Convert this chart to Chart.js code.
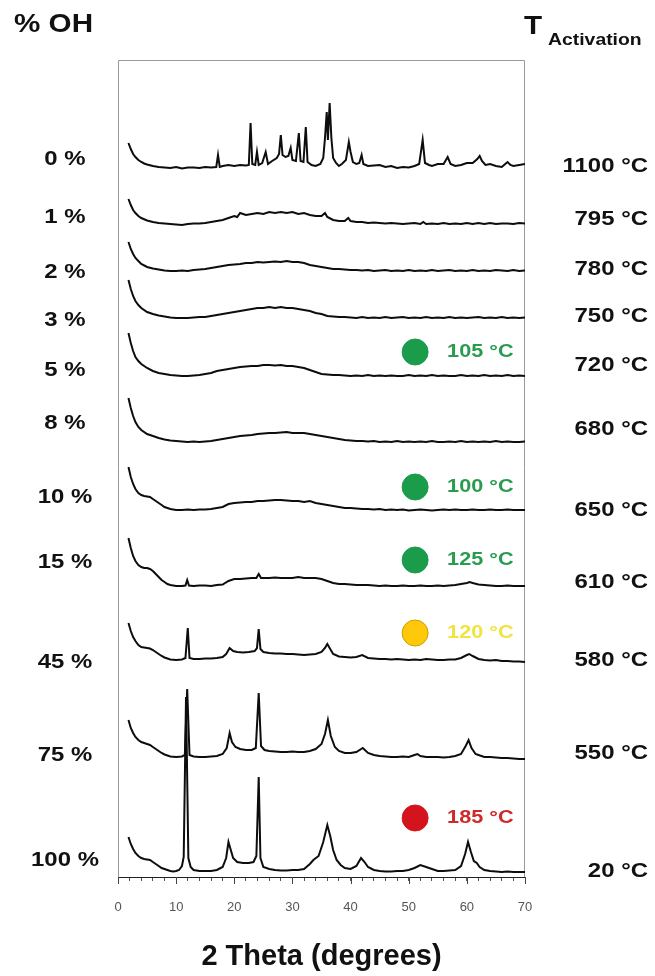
<!DOCTYPE html>
<html>
<head>
<meta charset="utf-8">
<script src="https://cdn.jsdelivr.net/npm/chart.js@4.4.0/dist/chart.umd.min.js"></script>
<style>
	html, body { margin: 0; padding: 0; background: #fff; }
	#wrap { position: relative; width: 655px; height: 976px; }
</style>
</head>
<body>
<div id="wrap"><canvas id="xrd"></canvas></div>
<script>
// sample labels (left) and activation temperatures (right)
const ohLabels = ["0 %", "1 %", "2 %", "3 %", "5 %", "8 %", "10 %", "15 %", "45 %", "75 %", "100 %"];
const activationLabels = ["1100 °C", "795 °C", "780 °C", "750 °C", "720 °C", "680 °C", "650 °C", "610 °C", "580 °C", "550 °C", "20 °C"];

// vertical stacking of the patterns (a.u.)
const stackOffset = [709, 653, 606, 559, 501, 435, 367, 291, 217, 119, 5];
// where the side labels sit (a.u.)
const ohLabelLevel = [718, 660, 605, 557, 507, 454, 380, 315, 215, 122, 17];
const activationLevel = [711, 658, 608, 561, 512, 448, 367, 295, 217, 124, 6];

// x axis
const xMin = 0;
const xMax = 70;
const yMax = 817;

// XRD patterns, [2theta, intensity above baseline]
const oh0 = [[1.8,25],[2.2,19],[2.6,14],[3,11],[3.5,8],[4,6],[4.5,4.5],[5,3.5],[6,2],[7,1],[8,0.5],[9,0],[10,1],[11,-0.5],[12,0.5],[13,0.5],[14,0],[15,1],[16,0.5],[16.9,1],[17.2,13],[17.5,1],[18,2],[19,3],[20,2],[21,3],[22,2.5],[22.5,3],[22.8,45],[23.1,4],[23.6,3],[23.9,16],[24.2,3],[24.8,5],[25.4,16],[25.8,4],[26.5,7],[27.3,10],[27.7,14],[28,33],[28.3,13],[28.8,11],[29.3,12],[29.7,20],[30,8],[30.6,7],[31.1,35],[31.4,7],[31.9,6],[32.3,41],[32.6,6],[33.3,3],[34,2],[34.8,4],[35.3,10],[35.6,30],[35.9,56],[36.1,28],[36.4,65],[36.7,30],[37,10],[37.5,5],[38,2],[38.5,4],[39.2,8],[39.7,26],[40,16],[40.4,6],[41,4],[41.5,5],[41.9,13],[42.2,4],[43,2],[44,2.5],[45,3],[46,1],[47,2],[48,0],[49,1],[50,0.5],[51,2],[51.8,4],[52.4,28],[52.8,5],[53.5,3],[54,2],[55,4],[56,4],[56.7,11],[57.2,4],[58,2],[59,3],[60,5],[61,5],[61.8,9],[62.2,12],[62.6,7],[63.2,3],[64,4],[65,2],[66,1],[66.6,4],[67,6],[67.5,3],[68,2],[69,3],[70,4]];
const oh1 = [[1.8,25],[2.2,19],[2.6,14],[3,11],[3.5,8],[4,6],[5,3.5],[6,2],[7,1],[8,0.5],[9,0],[10,-0.5],[11,-1],[12,0],[13,0.5],[14,0.5],[15,1],[16,2],[17,3],[18,4],[19,6],[20,8],[20.5,7],[21,11],[22,9],[23,10],[24,11],[25,10],[26,12],[27,11],[28,12],[29,11],[30,12],[31,10],[32,11],[33,9],[34,8],[35,8],[35.6,11],[36,7],[37,4],[38,3],[39,3],[39.6,6],[40,3],[41,2],[42,2],[43,1],[44,1.5],[45,1],[46,0.5],[47,1],[48,0.5],[49,0],[50,0.5],[51,1],[52,0],[52.5,2],[53,0],[54,0.5],[55,0],[56,1],[57,0],[58,0.5],[59,0],[60,1],[61,0],[62,1],[63,0],[64,1],[65,0],[66,0.5],[67,0.5],[68,0],[69,1],[70,0.5]];
const oh2 = [[1.8,29],[2.2,22],[2.6,17],[3,13],[3.5,10],[4,7],[5,4],[6,2.5],[7,1.5],[8,0.5],[9,0],[10,0],[11,0.5],[12,0],[13,1],[14,1.5],[15,2],[16,3],[17,4],[18,5],[19,6],[20,6.5],[21,7],[22,8],[23,8],[24,9],[25,8.5],[26,9],[27,9.5],[28,9],[29,10],[30,9],[31,9],[32,8],[33,6],[34,5],[35,4],[36,3],[37,2],[38,2],[39,1.5],[40,1],[41,1],[42,0.5],[43,1],[44,0],[45,0.5],[46,1],[47,0],[48,0.5],[49,0],[50,1],[51,0],[52,0.5],[53,0],[54,1],[55,0],[56,0.5],[57,1],[58,0],[59,0.5],[60,0],[61,1],[62,0],[63,0.5],[64,0],[65,1],[66,0.5],[67,0],[68,1],[69,0],[70,0.5]];
const oh3 = [[1.8,38],[2.2,29],[2.6,22],[3,17],[3.5,13],[4,10],[5,6],[6,4],[7,2.5],[8,1.5],[9,0.5],[10,0],[11,0],[12,0],[13,0.5],[14,1],[15,1],[16,2],[17,3],[18,4],[19,5],[20,6],[21,7],[22,8],[23,9],[24,10],[25,10],[26,11],[27,10],[28,11],[29,10],[30,10],[31,9],[32,8],[33,7],[34,5],[35,4],[36,2],[37,1.5],[38,1],[39,1],[40,0.5],[41,0],[42,1],[43,0],[44,0.5],[45,0],[46,1],[47,0],[48,0.5],[49,1],[50,0],[51,0.5],[52,0],[53,1],[54,0],[55,0.5],[56,0],[57,1],[58,0],[59,0.5],[60,0],[61,0.5],[62,1],[63,0],[64,0.5],[65,0],[66,1],[67,0],[68,0.5],[69,0],[70,0.5]];
const oh5 = [[1.8,43],[2.2,33],[2.6,25],[3,19],[3.5,15],[4,12],[5,8],[6,5],[7,3],[8,2],[9,1],[10,0.5],[11,0],[12,0],[13,0.5],[14,1],[15,2],[16,3],[17,5],[18,6],[19,7],[20,8],[21,9],[22,9.5],[23,10],[24,10],[25,11],[26,11],[27,10.5],[28,11],[29,10],[30,10],[31,9],[32,8],[33,6],[34,4],[35,2],[36,1.5],[37,1],[38,1],[39,0.5],[40,0],[41,0.5],[42,0],[43,1],[44,0],[45,0.5],[46,0],[47,0.5],[48,0],[49,0],[50,1],[51,0],[52,0.5],[53,0],[54,1],[55,0],[56,0.5],[57,0],[58,0],[59,1],[60,0],[61,0.5],[62,0],[63,1],[64,0],[65,0.5],[66,0],[67,1],[68,0],[69,0.5],[70,0]];
const oh8 = [[1.8,44],[2.2,34],[2.6,26],[3,20],[3.5,15],[4,12],[5,8],[6,6],[7,4],[8,2.5],[9,1.5],[10,1],[11,0.5],[12,0],[13,0.5],[14,0],[15,0.5],[16,1],[17,2],[18,3],[19,4],[20,5],[21,6],[22,6.5],[23,7],[24,8],[25,8.5],[26,9],[27,9],[28,9.5],[29,10],[30,9],[31,9],[32,9],[33,8],[34,7],[35,6],[36,5],[37,4],[38,3],[39,2],[40,1.5],[41,1],[42,1],[43,0.5],[44,1],[45,0],[46,0.5],[47,0],[48,1],[49,0],[50,0.5],[51,0],[52,0.5],[53,0],[54,1],[55,0],[56,0],[57,0.5],[58,0],[59,1],[60,0],[61,0.5],[62,0],[63,0.5],[64,0],[65,1],[66,0],[67,0.5],[68,0],[69,0],[70,0.5]];
const oh10 = [[1.8,43],[2.2,33],[2.6,26],[3,21],[3.5,17],[4,15],[4.5,14],[5,13.5],[5.5,13],[6,11],[6.5,9],[7,7],[7.5,5],[8,3],[8.5,2],[9,1],[10,0],[11,0],[12,0.5],[13,0],[14,0.5],[15,0.5],[16,1],[17,2],[18,3],[19,6],[20,7],[21,7.5],[22,8],[23,8],[24,9],[25,9],[26,9.5],[27,10],[28,10],[29,9.5],[30,9],[31,9],[32,8],[33,9],[34,7],[35,6],[36,5],[37,4],[38,3],[39,2],[40,2],[41,1.5],[42,1],[43,1],[44,0.5],[45,1],[46,0],[47,0.5],[48,0],[49,0.5],[50,-0.5],[51,0],[52,0.5],[53,0],[54,-0.5],[55,0],[56,0.5],[57,0],[58,0.5],[59,0],[60,0],[61,0.5],[62,0],[63,0],[64,0.5],[65,0],[66,0],[67,0.5],[68,0],[69,0],[70,0]];
const oh15 = [[1.8,48],[2.2,38],[2.6,30],[3,25],[3.5,21],[4,19],[4.5,18],[5,18],[5.5,17],[6,15],[6.5,12],[7,9],[7.5,6],[8,4],[8.5,2],[9,1],[10,0],[11,0],[11.6,0.5],[11.9,6],[12.2,0.5],[13,0],[14,0.5],[15,0.5],[16,0],[17,1],[18,1.5],[19,5],[20,7],[21,7],[22,7.5],[23,8],[23.8,8],[24.2,12],[24.6,8],[25,8],[26,8],[27,8.5],[28,8],[29,8],[30,8],[31,9],[32,8],[33,8],[34,8],[35,7],[36,5],[37,3],[38,2],[39,2],[40,1.5],[41,1],[42,1],[43,1],[44,0.5],[45,0],[46,0.5],[47,0],[48,0],[49,0.5],[50,0],[51,0],[52,0.5],[53,0],[54,0],[55,0.5],[56,0],[57,0.5],[58,1],[59,2],[60,3],[60.5,4],[61,3],[62,1.5],[63,1],[64,0.5],[65,0],[66,0],[67,0.5],[68,0],[69,0],[70,0]];
const oh45 = [[1.8,37],[2.2,29],[2.6,23],[3,19],[3.5,15],[4,13],[4.5,12.5],[5,12],[5.5,11.5],[6,10],[6.5,8],[7,6],[7.5,4],[8,2.5],[8.5,1.5],[9,0.5],[10,0],[11,0.5],[11.6,2],[12,32],[12.3,2],[13,1],[14,1],[15,1.5],[16,1.5],[17,2],[18,3],[18.6,6],[19.2,12],[19.8,9],[20.5,8],[21.5,7.5],[22.5,8],[23.5,9],[23.9,12],[24.2,31],[24.5,11],[25,8],[26,7],[27,6.5],[28,6.5],[29,6],[30,6],[31,5.5],[32,5],[33,5.5],[34,6],[35,8],[35.6,12],[36,16],[36.5,11],[37,6],[38,3.5],[39,3],[40,2.5],[41,3],[42,5],[43,2],[44,1.5],[45,1],[46,1],[47,0.5],[48,1],[49,0.5],[50,0],[51,0.5],[52,0],[53,1],[54,0.5],[55,0],[56,0],[57,0.5],[58,0.5],[59,2],[60,5],[60.4,6],[61,4],[62,1],[63,0],[64,-0.5],[65,0],[66,-1],[67,-1],[68,-1.5],[69,-1.5],[70,-2]];
const oh75 = [[1.8,38],[2.2,30],[2.6,25],[3,21],[3.5,18],[4,16],[4.5,15],[5,14],[5.5,13],[6,11],[6.5,9],[7,7],[7.5,5],[8,3.5],[8.5,2.5],[9,1.5],[10,1],[11,1.5],[11.5,3],[11.9,69],[12.3,3],[13,1.5],[14,1],[15,1],[16,1.5],[17,2],[18,4],[18.7,10],[19.2,25],[19.6,16],[20.2,11],[21,9],[22,8],[23,8],[23.7,10],[24.2,65],[24.6,12],[25.2,8],[26,7],[27,6.5],[28,6],[29,6],[30,6.5],[31,6],[32,6],[33,7],[34,9],[35,14],[35.6,24],[36.1,38],[36.6,22],[37.3,11],[38,7],[39,5],[40,5],[41,6],[42.1,10],[43,5],[44,3],[45,2],[46,1.5],[47,1],[48,1],[49,1.5],[50,1],[51,3],[51.5,4],[52,2],[53,1],[54,1],[55,1],[56,0.5],[57,1],[58,2],[59,4],[59.8,12],[60.3,18],[60.8,10],[61.5,4],[62,3],[63,1],[64,1],[65,0.5],[66,0],[67,0],[68,-0.5],[69,-1],[70,-1]];
const oh100 = [[1.8,35],[2.2,28],[2.6,23],[3,19],[3.5,16],[4,14],[4.5,13],[5,12.5],[5.5,12],[6,10],[6.5,8],[7,6],[7.5,4],[8,3],[8.5,2],[9,1],[9.5,0.5],[10,1],[10.5,2],[11,6],[11.3,15],[11.7,175],[12.1,14],[12.5,5],[13,2],[14,1],[15,1],[16,1],[17,2],[18,5],[18.6,14],[19,30],[19.4,22],[19.8,14],[20.5,10],[21.5,9],[22.5,9],[23.3,10],[23.8,16],[24.2,95],[24.5,14],[25,5],[26,3],[27,2],[28,1.5],[29,1.5],[30,2],[31,2],[32,3],[33,8],[33.6,12],[34.5,16],[35.3,30],[36,47],[36.5,36],[37,22],[37.6,12],[38.3,7],[39,4],[40,3],[41,6],[41.8,14],[42.4,10],[43,5],[44,2],[45,1],[46,0.5],[47,0.5],[48,1],[49,1],[50,2],[51,4],[52,7],[53,5],[54,3],[55,1],[56,1],[57,1.5],[58,2],[59,6],[59.7,18],[60.2,30],[60.7,20],[61.2,11],[61.7,9],[62.2,5],[63,2],[64,1],[65,0.5],[66,0],[67,0.5],[68,0],[69,0],[70,0]];

const patterns = [oh0, oh1, oh2, oh3, oh5, oh8, oh10, oh15, oh45, oh75, oh100];

// drying temperature marks inside the plot
const dryTemps = ["105 °C", "100 °C", "125 °C", "120 °C", "185 °C"];
const dryX = [51.1, 51.1, 51.1, 51.1, 51.1];
const dryY = [525, 390, 317, 244, 59];
const dryFill = ["#1a9c4a", "#1a9c4a", "#1a9c4a", "#ffc80a", "#d4141c"];
const dryBorder = ["#1a9c4a", "#1a9c4a", "#1a9c4a", "#c9a000", "#d4141c"];
const dryText = ["#2a9c50", "#2a9c50", "#2a9c50", "#f0e440", "#cf2a2a"];

const FONT = "'Liberation Sans', Arial, sans-serif";
// the figure text is a little wider than plain Arial
const STRETCH = 1.14;

let datasets = patterns.map((p, i) => {
	return {
		type: "line",
		data: p.map((d) => ({ x: d[0], y: d[1] + stackOffset[i] })),
		borderColor: "#0d0d0d",
		borderWidth: 2,
		pointRadius: 0,
		fill: false,
		tension: 0,
	};
});

datasets.push({
	type: "scatter",
	data: dryX.map((x, i) => ({ x: x, y: dryY[i] })),
	backgroundColor: dryFill,
	borderColor: dryBorder,
	borderWidth: 1,
	pointRadius: 13,
	pointHoverRadius: 13,
});

function wideText(ctx, text, x, y, align) {
	const w = ctx.measureText(text).width * STRETCH;
	let left = x;
	if (align === "right") left = x - w;
	if (align === "center") left = x - w / 2;
	ctx.save();
	ctx.translate(left, y);
	ctx.scale(STRETCH, 1);
	ctx.textAlign = "left";
	ctx.fillText(text, 0, 0);
	ctx.restore();
}

// box + labels drawn with the chart scales
const sideText = {
	id: "sideText",
	beforeDatasetsDraw(chart) {
		const { ctx, chartArea } = chart;
		ctx.save();
		ctx.strokeStyle = "#999";
		ctx.lineWidth = 1;
		ctx.beginPath();
		ctx.moveTo(chartArea.left + 0.5, chartArea.bottom);
		ctx.lineTo(chartArea.left + 0.5, chartArea.top + 0.5);
		ctx.lineTo(chartArea.right - 0.5, chartArea.top + 0.5);
		ctx.lineTo(chartArea.right - 0.5, chartArea.bottom);
		ctx.stroke();
		ctx.restore();
	},
	afterDraw(chart) {
		const { ctx, chartArea, scales } = chart;
		const y = scales.y;
		const x = scales.x;
		ctx.save();
		ctx.textBaseline = "middle";
		ctx.fillStyle = "#111";

		// major ticks a bit longer
		ctx.strokeStyle = "#444";
		ctx.lineWidth = 1;
		for (let v = xMin; v <= xMax; v += 10) {
			const px = Math.round(x.getPixelForValue(v)) + 0.5;
			ctx.beginPath();
			ctx.moveTo(px, chartArea.bottom);
			ctx.lineTo(px, chartArea.bottom + 7);
			ctx.stroke();
		}

		ctx.font = "bold 21px " + FONT;
		ohLabels.forEach((t, i) => {
			wideText(ctx, t, 65, y.getPixelForValue(ohLabelLevel[i]), "center");
		});
		ctx.font = "bold 21px " + FONT;
		activationLabels.forEach((t, i) => {
			wideText(ctx, t, 648, y.getPixelForValue(activationLevel[i]), "right");
		});

		// headers
		ctx.font = "bold 26px " + FONT;
		wideText(ctx, "% OH", 14, 25, "left");
		wideText(ctx, "T", 524, 27, "left");
		ctx.font = "bold 17px " + FONT;
		wideText(ctx, "Activation", 548, 40, "left");

		// drying temperatures
		ctx.font = "bold 19px " + FONT;
		dryTemps.forEach((t, i) => {
			ctx.fillStyle = dryText[i];
			wideText(ctx, t, x.getPixelForValue(dryX[i]) + 32, y.getPixelForValue(dryY[i]), "left");
		});
		ctx.restore();
	},
};

const xrdChart = new Chart(document.getElementById("xrd"), {
	data: { datasets: datasets },
	options: {
		responsive: true,
		maintainAspectRatio: false,
		animation: false,
		layout: {
			padding: { left: 118, right: 130, top: 60, bottom: 0 },
		},
		plugins: {
			legend: { display: false },
			tooltip: { enabled: false },
		},
		scales: {
			x: {
				type: "linear",
				min: xMin,
				max: xMax,
				afterFit: (scale) => {
					scale.height = 99;
				},
				border: { color: "#222", width: 1 },
				grid: {
					display: true,
					drawOnChartArea: false,
					drawTicks: true,
					tickLength: 4,
					tickColor: "#555",
				},
				ticks: {
					stepSize: 2,
					autoSkip: false,
					maxRotation: 0,
					padding: 19,
					color: "#555",
					font: { family: FONT, size: 13 },
					callback: (v) => (v % 10 === 0 ? v : ""),
				},
				title: {
					display: true,
					text: "2 Theta (degrees)",
					color: "#111",
					font: { family: FONT, size: 29, weight: "bold" },
					padding: { top: 0, bottom: 2 },
				},
			},
			y: {
				type: "linear",
				display: false,
				min: 0,
				max: yMax,
			},
		},
	},
	plugins: [sideText],
});
</script>
</body>
</html>
